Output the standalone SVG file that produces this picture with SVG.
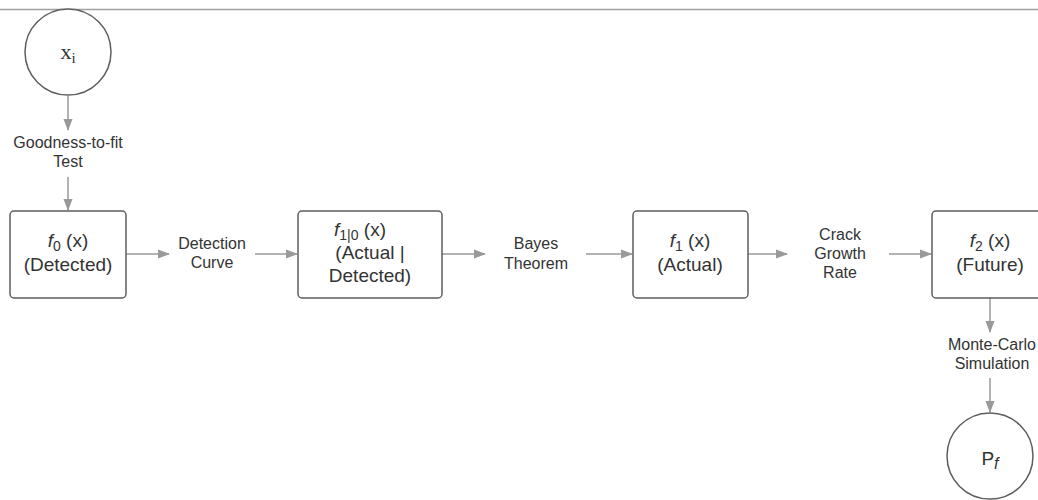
<svg xmlns="http://www.w3.org/2000/svg" width="1038" height="500" viewBox="0 0 1038 500">
<defs>
<marker id="ah" markerWidth="12" markerHeight="10" refX="11" refY="5" orient="auto" markerUnits="userSpaceOnUse">
<path d="M0,0.5 L12,5 L0,9.5 Z" fill="#999"/>
</marker>
<style>
.box{fill:#fff;stroke:#5e5e5e;stroke-width:1.5}
.conn{stroke:#999;stroke-width:1.5;fill:none;marker-end:url(#ah)}
.lbl{font-family:"Liberation Sans",Arial,sans-serif;font-size:16px;fill:#333;text-anchor:middle}
.nt{font-family:"Liberation Sans",Arial,sans-serif;font-size:19px;fill:#333;text-anchor:middle}
</style>
</defs>
<line x1="0" y1="9.5" x2="1038" y2="9.5" stroke="#a0a0a0" stroke-width="1.5"/>
<g id="connectors">
<line class="conn" x1="68" y1="96" x2="68" y2="130"/>
<line class="conn" x1="68" y1="177" x2="68" y2="210"/>
<line class="conn" x1="126" y1="254" x2="169" y2="254"/>
<line class="conn" x1="255" y1="254" x2="297" y2="254"/>
<line class="conn" x1="442" y1="254" x2="485" y2="254"/>
<line class="conn" x1="586" y1="254" x2="632" y2="254"/>
<line class="conn" x1="748" y1="254" x2="787" y2="254"/>
<line class="conn" x1="889" y1="254" x2="931" y2="254"/>
<line class="conn" x1="990" y1="298" x2="990" y2="332"/>
<line class="conn" x1="990" y1="378" x2="990" y2="412"/>
<text class="lbl" x="68" y="148">Goodness-to-fit</text>
<text class="lbl" x="68" y="167">Test</text>
<text class="lbl" x="212" y="249">Detection</text>
<text class="lbl" x="212" y="268">Curve</text>
<text class="lbl" x="536" y="249">Bayes</text>
<text class="lbl" x="536" y="269">Theorem</text>
<text class="lbl" x="840" y="240">Crack</text>
<text class="lbl" x="840" y="259">Growth</text>
<text class="lbl" x="840" y="278">Rate</text>
<text class="lbl" x="992" y="350">Monte-Carlo</text>
<text class="lbl" x="992" y="369">Simulation</text>
</g>
<g id="node-xi">
<circle cx="68" cy="52" r="43" fill="#fff" stroke="#5e5e5e" stroke-width="1.5"/>
<text x="68" y="59" font-family="'Liberation Serif','Times New Roman',serif" font-size="22" fill="#333" text-anchor="middle">x<tspan font-size="15" dy="4">i</tspan></text>
</g>
<g id="node-f0">
<rect class="box" x="10" y="211" width="116" height="87" rx="4"/>
<text class="nt" x="68" y="247"><tspan font-style="italic">f</tspan><tspan font-size="14" dy="4">0</tspan><tspan dy="-4"> (x)</tspan></text>
<text class="nt" x="68" y="271">(Detected)</text>
</g>
<g id="node-f10">
<rect class="box" x="298" y="211" width="144" height="87" rx="4"/>
<text class="nt" x="360" y="236"><tspan font-style="italic">f</tspan><tspan font-size="14" dy="4">1|0</tspan><tspan dy="-4"> (x)</tspan></text>
<text class="nt" x="370" y="259">(Actual |</text>
<text class="nt" x="370" y="282">Detected)</text>
</g>
<g id="node-f1">
<rect class="box" x="633" y="211" width="115" height="87" rx="4"/>
<text class="nt" x="690" y="247"><tspan font-style="italic">f</tspan><tspan font-size="14" dy="4">1</tspan><tspan dy="-4"> (x)</tspan></text>
<text class="nt" x="690" y="271">(Actual)</text>
</g>
<g id="node-f2">
<rect class="box" x="932" y="211" width="116" height="87" rx="4"/>
<text class="nt" x="990" y="247"><tspan font-style="italic">f</tspan><tspan font-size="14" dy="4">2</tspan><tspan dy="-4"> (x)</tspan></text>
<text class="nt" x="990" y="271">(Future)</text>
</g>
<g id="node-pf">
<circle cx="990" cy="456" r="43" fill="#fff" stroke="#5e5e5e" stroke-width="1.5"/>
<text class="nt" x="990" y="465" font-size="25">P<tspan font-style="italic" font-size="16" dy="4">f</tspan></text>
</g>
</svg>
